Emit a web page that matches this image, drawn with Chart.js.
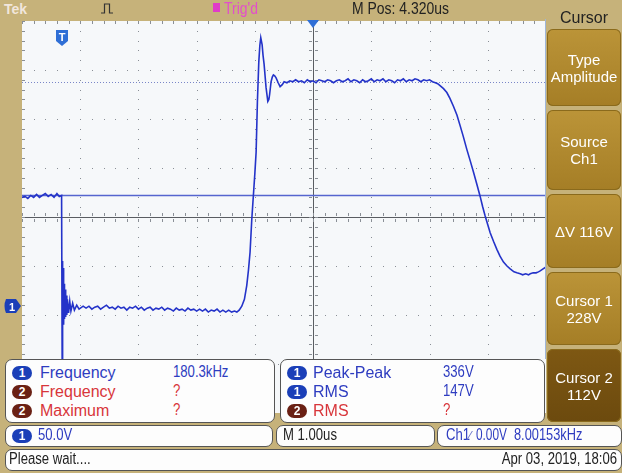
<!DOCTYPE html>
<html>
<head>
<meta charset="utf-8">
<script src="https://cdn.jsdelivr.net/npm/chart.js@4/dist/chart.umd.min.js"></script>
<style>
  body { margin: 0; width: 622px; height: 473px; background: #c6b27a; position: relative; overflow: hidden;
         font-family: "Liberation Sans", Arial, sans-serif; }
  .abs { position: absolute; }
  #plot { left: 22px; top: 21px; width: 524px; height: 392px; }
  .txt { position: absolute; white-space: nowrap; font-size: 16px; line-height: 16px; }
  .nx { transform: scaleX(0.82); transform-origin: left center; }
  .nxr { transform: scaleX(0.82); transform-origin: right center; }
  .btn { position: absolute; left: 547px; width: 74px; border-radius: 6px; color: #fff; font-size: 15px;
         text-align: center; display: flex; flex-direction: column; justify-content: center; line-height: 17px;
         background: linear-gradient(#bb9438, #a57e26); box-shadow: inset 0 0 0 1px #8a6a1c; }
  .btn.sel { background: linear-gradient(#7e5813, #6c4a0e); }
  .panel { position: absolute; background: #fdfdfd; border: 1px solid #555; border-radius: 7px; }
  .badge { position: absolute; width: 20px; height: 14px; border-radius: 8px; color: #fff; font-size: 12px;
           line-height: 14px; text-align: center; font-weight: bold; }
  .b1 { background: #1b3fb8; }
  .b2 { background: #6a2014; }
  .c1 { color: #2e3cc0; }
  .c2 { color: #d8353a; }
  .dk { color: #222; }
</style>
</head>
<body>
<canvas id="plot" class="abs" width="524" height="392"></canvas>
<div class="abs" style="left:545px;top:19px;width:1px;height:340px;background:#9fb6d8;"></div>

<!-- top bar -->
<div class="txt" style="left:4px;top:1px;color:#f1e6dc;font-weight:bold;font-size:14px;">Tek</div>
<svg class="abs" style="left:0;top:0" width="545" height="30">
  <path d="M101 13 H104.5 V4 H109.5 V13 H113" fill="none" stroke="#333" stroke-width="1.2"/>
  <rect x="213" y="3" width="7" height="9" fill="#e03cc8"/>
  <path d="M307 20 H319 L313 28 Z" fill="#2f6fd6"/>
</svg>
<div class="txt nx" style="left:224px;top:1px;color:#e24fcb;font-size:17px;">Trig'd</div>
<div class="txt nx dk" style="left:352px;top:1px;font-size:17px;">M Pos: 4.320us</div>

<!-- markers on the graticule -->
<svg class="abs" style="left:0;top:0" width="100" height="330">
  <path d="M56 30 H68 V41 L62 46 L56 41 Z" fill="#2f6fd6"/>
  <text x="62" y="41" fill="#fff" font-size="11" font-weight="bold" text-anchor="middle" font-family="Liberation Sans">T</text>
  <path d="M6 299 H16 L21 306 L16 313 H6 Q3 306 6 299 Z" fill="#1b3fb8"/>
  <text x="12" y="310.5" fill="#fff" font-size="11" font-weight="bold" text-anchor="middle" font-family="Liberation Sans">1</text>
</svg>

<!-- right menu -->
<div class="txt dk" style="left:547px;top:10px;width:74px;text-align:center;font-size:16px;">Cursor</div>
<div class="btn" style="top:29px;height:77px;">Type<br>Amplitude</div>
<div class="btn" style="top:110px;height:80px;">Source<br>Ch1</div>
<div class="btn" style="top:194px;height:74px;">&#916;V 116V</div>
<div class="btn" style="top:272px;height:73px;">Cursor 1<br>228V</div>
<div class="btn sel" style="top:349px;height:73px;">Cursor 2<br>112V</div>

<!-- measurement panels -->
<div class="panel" style="left:5px;top:359px;width:268px;height:62px;"></div>
<div class="panel" style="left:280px;top:359px;width:263px;height:62px;"></div>

<div class="badge b1" style="left:12px;top:366px;">1</div>
<div class="txt c1" style="left:40px;top:365px;">Frequency</div>
<div class="txt nx c1" style="left:173px;top:364px;">180.3kHz</div>
<div class="badge b2" style="left:12px;top:385px;">2</div>
<div class="txt c2" style="left:40px;top:384px;">Frequency</div>
<div class="txt nx c2" style="left:173px;top:383px;">?</div>
<div class="badge b2" style="left:12px;top:404px;">2</div>
<div class="txt c2" style="left:40px;top:403px;">Maximum</div>
<div class="txt nx c2" style="left:173px;top:402px;">?</div>

<div class="badge b1" style="left:287px;top:366px;">1</div>
<div class="txt c1" style="left:313px;top:365px;">Peak-Peak</div>
<div class="txt nx c1" style="left:443px;top:364px;">336V</div>
<div class="badge b1" style="left:287px;top:385px;">1</div>
<div class="txt c1" style="left:313px;top:384px;">RMS</div>
<div class="txt nx c1" style="left:443px;top:383px;">147V</div>
<div class="badge b2" style="left:287px;top:404px;">2</div>
<div class="txt c2" style="left:313px;top:403px;">RMS</div>
<div class="txt nx c2" style="left:443px;top:402px;">?</div>

<!-- status rows -->
<div class="panel" style="left:5px;top:425px;width:266px;height:20px;"></div>
<div class="badge b1" style="left:12px;top:429px;">1</div>
<div class="txt nx c1" style="left:38px;top:427px;">50.0V</div>
<div class="panel" style="left:276px;top:425px;width:157px;height:20px;"></div>
<div class="txt nx dk" style="left:283px;top:427px;">M 1.00us</div>
<div class="panel" style="left:437px;top:425px;width:183px;height:20px;"></div>
<div class="txt nx c1" style="left:446px;top:427px;">Ch1</div>
<div class="txt c1" style="left:469px;top:428px;font-size:13px;color:#6a74c8;">&#8260;</div>
<div class="txt c1" style="left:476px;top:427px;transform:scaleX(0.74);transform-origin:left center;">0.00V</div>
<div class="txt c1" style="left:514px;top:427px;transform:scaleX(0.8);transform-origin:left center;">8.00153kHz</div>
<div class="panel" style="left:5px;top:449px;width:615px;height:20px;"></div>
<div class="txt nx dk" style="left:9px;top:451px;">Please wait....</div>
<div class="txt nxr dk" style="left:440px;top:451px;width:177px;text-align:right;">Apr 03, 2019, 18:06</div>

<script>
// Ch1 capture, 1.00us/div, 50.0V/div, trigger at centre
const timeUs = [
  -5.00, -4.95, -4.90, -4.85, -4.80, -4.75, -4.70, -4.65, -4.60, -4.55, -4.50, -4.45, -4.40, -4.36, -4.32,
  -4.31, -4.305, -4.30, -4.295, -4.29, -4.285, -4.28, -4.275, -4.27, -4.26, -4.25, -4.24, -4.23, -4.22,
  -4.20, -4.18, -4.16, -4.13, -4.10, -4.06, -4.02,
  -3.95, -3.90, -3.85, -3.80, -3.75, -3.70, -3.65, -3.60, -3.55, -3.50, -3.45, -3.40, -3.35, -3.30,
  -3.25, -3.20, -3.15, -3.10, -3.05, -3.00, -2.95, -2.90, -2.85, -2.80, -2.75, -2.70, -2.65, -2.60,
  -2.55, -2.50, -2.45, -2.40, -2.35, -2.30, -2.25, -2.20, -2.15, -2.10, -2.05, -2.00, -1.95, -1.90,
  -1.85, -1.80, -1.75, -1.70, -1.65, -1.60, -1.55, -1.50, -1.45, -1.40, -1.35, -1.31,
  -1.27, -1.225, -1.18, -1.14, -1.11, -1.083, -1.053, -1.026, -1.00, -0.979, -0.957, -0.933, -0.915,
  -0.899, -0.876, -0.86, -0.842, -0.808, -0.778, -0.76, -0.747, -0.722, -0.70, -0.682, -0.66, -0.636,
  -0.60, -0.567, -0.53, -0.498,
  -0.45, -0.40, -0.35, -0.30, -0.25, -0.20, -0.15, -0.10, -0.05, 0.00, 0.05, 0.10, 0.15, 0.20, 0.25,
  0.30, 0.35, 0.40, 0.45, 0.50, 0.55, 0.60, 0.65, 0.70, 0.75, 0.80, 0.85, 0.90, 0.95, 1.00, 1.05,
  1.10, 1.15, 1.20, 1.25, 1.30, 1.35, 1.40, 1.45, 1.50, 1.55, 1.60, 1.65, 1.70, 1.75, 1.80, 1.85,
  1.90, 1.95, 2.00, 2.05, 2.10, 2.14,
  2.18, 2.24, 2.297, 2.35, 2.41, 2.47, 2.526, 2.58, 2.64, 2.70, 2.754, 2.81, 2.869, 2.91, 2.955,
  3.00, 3.041, 3.10, 3.156, 3.21, 3.27, 3.33, 3.385, 3.45, 3.50, 3.557, 3.60, 3.65, 3.70, 3.729,
  3.78, 3.83, 3.87, 3.90, 3.95, 4.00
];
const ch1Volts = [
  110, 111, 109, 112, 110, 113, 110, 112, 114, 111, 113, 110, 114, 111, 112,
  -63, 45, -22, 38, -18, 30, -20, 22, -14, 16, -12, 10, -10, 6,
  -8, 4, -6, 2, -5, 0, -4,
  -1, -3, -1, -4, -2, -1, -4, -2, 0, -3, -2, -4, -1, -3,
  -2, -5, -2, -3, -1, -4, -2, -5, -3, -2, -5, -3, -4, -2,
  -5, -3, -4, -6, -3, -5, -4, -6, -3, -5, -4, -6, -4, -6,
  -4, -7, -5, -6, -4, -7, -5, -7, -5, -7, -6, -7,
  -5, -1, 6, 20, 36, 54, 88, 112, 135, 156, 207, 248, 265,
  273, 266, 255, 246, 222, 208, 210, 215, 228, 233, 235, 234, 232,
  227, 223, 225, 228,
  227, 229, 228, 230, 228, 229, 227, 230, 228, 229, 227, 230, 229, 228, 230,
  229, 227, 229, 230, 228, 229, 231, 228, 230, 229, 227, 230, 228, 229, 231, 228,
  230, 229, 231, 228, 230, 229, 227, 230, 229, 231, 228, 230, 229, 231, 230, 228,
  230, 229, 230, 228, 227, 226,
  224, 221, 217, 211, 203, 194, 183, 172, 159, 147, 136, 124, 111, 101, 91,
  82, 74, 65, 57, 50, 44, 40, 37, 34, 33, 32, 31, 32, 31, 32,
  33, 33, 34, 35, 37, 39
];
const cursorVolts = [228, 112];   // cursor 1 (dotted), cursor 2 (solid)
const xRangeUs = [-5, 4];
const yRangeVolts = [-110, 290];
const voltsPerDiv = 50;
const usPerDiv = 1;

// graticule + cursors, drawn from the scales
const scopeGrid = {
  id: 'scopeGrid',
  beforeDatasetsDraw(chart) {
    const { ctx, chartArea: a, scales: { x, y } } = chart;
    ctx.save();
    ctx.fillStyle = '#f6f8fa';
    ctx.fillRect(a.left, a.top, a.right - a.left, a.bottom - a.top);

    const xc = x.getPixelForValue(0);
    const yc = y.getPixelForValue(90);
    ctx.fillStyle = '#8a8f96';
    // dotted division lines
    for (let t = xRangeUs[0] + usPerDiv; t < xRangeUs[1]; t += usPerDiv) {
      if (Math.abs(t) < 1e-6) continue;
      const px = Math.round(x.getPixelForValue(t));
      for (let v = yRangeVolts[0]; v <= yRangeVolts[1]; v += voltsPerDiv / 5) {
        ctx.fillRect(px, Math.round(y.getPixelForValue(v)), 1, 1);
      }
    }
    for (let v = yRangeVolts[0] + voltsPerDiv; v < yRangeVolts[1]; v += voltsPerDiv) {
      if (v === 90) continue;
      const py = Math.round(y.getPixelForValue(v));
      for (let t = xRangeUs[0]; t <= xRangeUs[1]; t += usPerDiv / 5) {
        ctx.fillRect(Math.round(x.getPixelForValue(t)), py, 1, 1);
      }
    }
    // centre crosshair with minor ticks
    ctx.fillStyle = '#5a5d62';
    ctx.fillRect(Math.round(xc), a.top, 1, a.bottom - a.top);
    ctx.fillRect(a.left, Math.round(yc), a.right - a.left, 1);
    ctx.fillStyle = '#8a8f96';
    for (let v = yRangeVolts[0]; v <= yRangeVolts[1]; v += voltsPerDiv / 5) {
      const py = Math.round(y.getPixelForValue(v));
      ctx.fillRect(Math.round(xc) - 4, py, 3, 1);
      ctx.fillRect(Math.round(xc) + 2, py, 3, 1);
      ctx.fillRect(a.left, py, 3, 1);
    }
    for (let t = xRangeUs[0]; t <= xRangeUs[1]; t += usPerDiv / 5) {
      const px = Math.round(x.getPixelForValue(t));
      ctx.fillRect(px, Math.round(yc) - 4, 1, 3);
      ctx.fillRect(px, Math.round(yc) + 2, 1, 3);
      ctx.fillRect(px, a.top, 1, 3);
    }
    // cursors
    const c1 = Math.round(y.getPixelForValue(cursorVolts[0])) + 0.5;
    ctx.strokeStyle = '#7a86c8';
    ctx.lineWidth = 1;
    ctx.setLineDash([1, 2]);
    ctx.beginPath(); ctx.moveTo(a.left, c1); ctx.lineTo(a.right, c1); ctx.stroke();
    const c2 = Math.round(y.getPixelForValue(cursorVolts[1])) + 0.5;
    ctx.setLineDash([]);
    ctx.strokeStyle = '#5565cf';
    ctx.lineWidth = 1.5;
    ctx.beginPath(); ctx.moveTo(a.left, c2); ctx.lineTo(a.right, c2); ctx.stroke();
    ctx.restore();
  }
};

new Chart(document.getElementById('plot'), {
  type: 'line',
  data: {
    datasets: [{
      data: timeUs.map((t, i) => ({ x: t, y: ch1Volts[i] })),
      borderColor: '#2433c9',
      borderWidth: 1.6,
      pointRadius: 0,
      tension: 0,
      fill: false
    }]
  },
  options: {
    responsive: false,
    animation: false,
    layout: { padding: 0 },
    plugins: { legend: { display: false }, tooltip: { enabled: false } },
    scales: {
      x: { type: 'linear', min: xRangeUs[0], max: xRangeUs[1], display: false },
      y: { min: yRangeVolts[0], max: yRangeVolts[1], display: false }
    }
  },
  plugins: [scopeGrid]
});
</script>
</body>
</html>
